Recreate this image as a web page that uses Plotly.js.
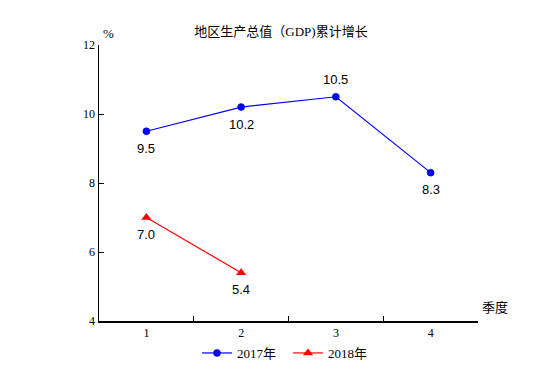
<!DOCTYPE html>
<html>
<head>
<meta charset="utf-8">
<script src="https://cdn.plot.ly/plotly-3.0.1.min.js"></script>
<style>html,body{margin:0;padding:0;background:#fff;}#chart{width:555px;height:385px;}</style>
</head>
<body>
<div id="chart"></div>
<script>
const quarters = ['1', '2', '3', '4'];
const values2017 = [9.5, 10.2, 10.5, 8.3];
const quarters2018 = ['1', '2'];
const values2018 = [7.0, 5.4];
const labelPos2017 = ['below', 'below', 'above', 'below'];
const labelPos2018 = ['below', 'below'];
const yTicks = [4, 6, 8, 10, 12];

const serif = 'Liberation Serif, Times New Roman, Noto Sans CJK SC, serif';
const sans = 'Liberation Sans, Arial, sans-serif';

const traces = [
  {
    x: quarters, y: values2017, name: '2017年', type: 'scatter', mode: 'lines+markers',
    line: {color: '#0000ff', width: 1.2},
    marker: {symbol: 'circle', size: 7, color: '#0000ff', line: {color: '#0000cc', width: 0.5}}
  },
  {
    x: quarters2018, y: values2018, name: '2018年', type: 'scatter', mode: 'lines+markers',
    line: {color: '#ff0000', width: 1.2},
    marker: {symbol: 'triangle-up', size: 9, color: '#ff0000'}
  }
];

const annotations = [];
function addLabels(xs, ys, pos) {
  xs.forEach((x, i) => {
    annotations.push({
      x: quarters.indexOf(x), y: ys[i], xref: 'x', yref: 'y', text: ys[i].toFixed(1), showarrow: false,
      xanchor: 'center', yanchor: 'middle',
      yshift: pos[i] === 'above' ? 17 : -17,
      font: {family: sans, size: 13, color: '#000'}
    });
  });
}
addLabels(quarters, values2017, labelPos2017);
addLabels(quarters2018, values2018, labelPos2018);
annotations.push({
  text: '%', xref: 'paper', yref: 'paper', x: (108 - 99) / 379, y: 1 + (45 - 33) / 276,
  xanchor: 'center', yanchor: 'middle',
  showarrow: false, font: {family: serif, size: 13, color: '#000'}
});
annotations.push({
  text: '季度', xref: 'paper', yref: 'paper', x: (495 - 99) / 379, y: (321 - 306) / 276,
  xanchor: 'center', yanchor: 'middle',
  showarrow: false, font: {family: 'Noto Sans CJK SC, sans-serif', size: 13, color: '#000'}
});

const layout = {
  width: 555, height: 385,
  margin: {l: 99, r: 77, t: 45, b: 64},
  paper_bgcolor: '#fff', plot_bgcolor: '#fff',
  title: {
    text: '地区生产总值（GDP)累计增长', xref: 'container', x: 281 / 555, xanchor: 'center',
    yref: 'container', y: 1 - 31 / 385, yanchor: 'middle',
    font: {family: 'Liberation Serif, Noto Sans CJK SC, serif', size: 13, color: '#000'}
  },
  showlegend: true,
  legend: {
    orientation: 'h', x: (288 - 99) / 379, xanchor: 'center',
    y: -(353 - 321) / 276, yanchor: 'middle',
    entrywidth: 46, entrywidthmode: 'pixels',
    font: {family: serif, size: 13, color: '#000'}, bgcolor: 'rgba(0,0,0,0)'
  },
  xaxis: {
    type: 'category', categoryarray: quarters, range: [-0.5, 3.5],
    showline: true, linecolor: '#000', linewidth: 1.5, mirror: false,
    showgrid: false, zeroline: false,
    ticks: 'inside', tickson: 'boundaries', ticklen: 5, tickcolor: '#000', tickwidth: 1,
    tickfont: {family: serif, size: 12, color: '#000'}, fixedrange: true
  },
  yaxis: {
    range: [4, 12], tickvals: yTicks, ticktext: yTicks.map(String),
    showline: true, linecolor: '#000', linewidth: 1.5,
    showgrid: false, zeroline: false,
    ticks: 'inside', ticklen: 5, tickcolor: '#000', tickwidth: 1,
    tickfont: {family: serif, size: 12, color: '#000'}, fixedrange: true
  },
  annotations: annotations
};

Plotly.newPlot('chart', traces, layout, {displayModeBar: false, staticPlot: true});
</script>
</body>
</html>
